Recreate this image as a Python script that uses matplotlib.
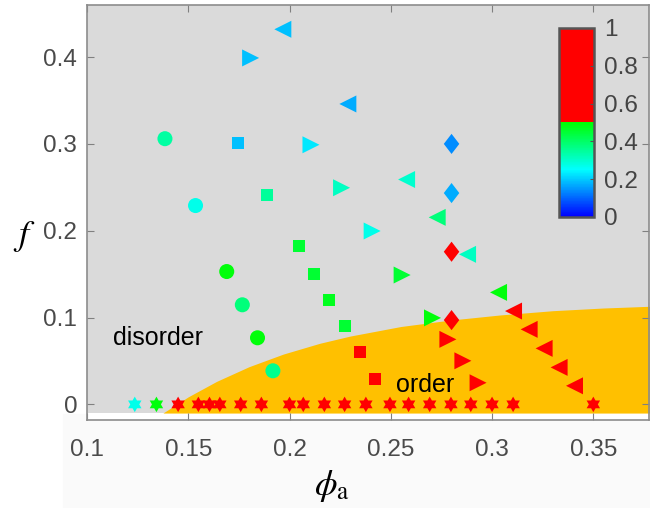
import numpy as np
import matplotlib
matplotlib.use("Agg")
import matplotlib.pyplot as plt
from matplotlib.colors import LinearSegmentedColormap
from matplotlib.patches import Rectangle

plt.rcParams['font.family'] = ['Liberation Sans', 'DejaVu Sans']
plt.rcParams['mathtext.fontset'] = 'stix'

# circles
circ_phi = [0.1385, 0.1536, 0.169, 0.1767, 0.1842, 0.1918]
circ_f = [0.306, 0.229, 0.153, 0.1147, 0.0767, 0.0387]
circ_c = [0.34, 0.27, 0.49, 0.38, 0.49, 0.36]

# squares
sq_phi = [0.1745, 0.189, 0.2046, 0.212, 0.2195, 0.2273, 0.2347, 0.2421]
sq_f = [0.301, 0.241, 0.182, 0.150, 0.120, 0.0906, 0.0603, 0.0291]
sq_c = [0.19, 0.35, 0.45, 0.45, 0.47, 0.45, 0.8, 0.8]

# right-pointing triangles
tr_phi = [0.1808, 0.2106, 0.2257, 0.2408, 0.2556, 0.2706, 0.2782, 0.2856, 0.2931]
tr_f = [0.399, 0.299, 0.2495, 0.1997, 0.149, 0.0996, 0.0749, 0.0502, 0.0249]
tr_c = [0.19, 0.23, 0.31, 0.27, 0.45, 0.49, 0.8, 0.8, 0.8]

# left-pointing triangles
tl_phi = [0.1967, 0.2288, 0.2578, 0.2729, 0.2879, 0.3032, 0.3106, 0.3183, 0.3257, 0.3331, 0.3407]
tl_f = [0.432, 0.346, 0.259, 0.2154, 0.1728, 0.129, 0.1075, 0.0864, 0.0645, 0.0426, 0.0214]
tl_c = [0.19, 0.17, 0.30, 0.38, 0.31, 0.49, 0.8, 0.8, 0.8, 0.8, 0.8]

# diamonds
dm_phi = [0.28, 0.28, 0.28, 0.28]
dm_f = [0.30, 0.2434, 0.1758, 0.0971]
dm_c = [0.14, 0.17, 0.8, 0.8]

# hexagrams at f = 0
st_phi = [0.1236, 0.1343, 0.145, 0.155, 0.1605, 0.1656, 0.1759, 0.1861, 0.2, 0.2068,
          0.2172, 0.2272, 0.2377, 0.2496, 0.2588, 0.2692, 0.2797, 0.2895, 0.30, 0.3104, 0.35]
st_f = [0.0] * len(st_phi)
st_c = [0.27, 0.49] + [0.8] * (len(st_phi) - 2)

# order / disorder boundary
bnd_phi = [0.1375, 0.15, 0.164, 0.18, 0.197, 0.215, 0.23, 0.255, 0.279, 0.304, 0.33, 0.355, 0.378]
bnd_f = [-0.01, 0.0087, 0.0265, 0.0434, 0.058, 0.0704, 0.0787, 0.0897, 0.097, 0.103, 0.1079, 0.111, 0.113]

cdict = {
    'red': [(0, 0, 0), (0.5, 0, 1), (1, 1, 1)],
    'green': [(0, 0, 0), (0.25, 1, 1), (0.5, 1, 0), (1, 0, 0)],
    'blue': [(0, 1, 1), (0.25, 1, 1), (0.5, 0, 0), (1, 0, 0)],
}
cmap = LinearSegmentedColormap('bcgr', cdict, N=256)

# marker shapes
ang_out = np.deg2rad(90 + 60 * np.arange(6))
ang_in = ang_out + np.deg2rad(30)
hexa = []
for a, b in zip(ang_out, ang_in):
    hexa.append((np.cos(a), np.sin(a)))
    hexa.append((np.cos(b) / np.sqrt(3), np.sin(b) / np.sqrt(3)))
diamond = [(0, 1), (0.77, 0), (0, -1), (-0.77, 0)]

fig = plt.figure(figsize=(6.5, 5.08), dpi=100)
fig.patches.append(Rectangle((0.097, 0), 0.903, 0.185, transform=fig.transFigure,
                             color='#fafafa', zorder=-1))
ax = fig.add_axes([0.1338, 0.1732, 0.8647, 0.817])
ax.set_facecolor('white')
ax.set_xlim(0.1, 0.3775)
ax.set_ylim(-0.018, 0.46)
ax.axhspan(-0.01, 0.46, color='#dadada', zorder=0, lw=0)
ax.fill_between(bnd_phi, -0.01, bnd_f, color='#ffc000', lw=0, zorder=1)

kw = dict(cmap=cmap, vmin=0, vmax=1, linewidths=0, zorder=3)
sc = ax.scatter(circ_phi, circ_f, c=circ_c, marker='o', s=117, **kw)
ax.scatter(sq_phi, sq_f, c=sq_c, marker='s', s=75, **kw)
ax.scatter(tr_phi, tr_f, c=tr_c, marker='>', s=150, **kw)
ax.scatter(tl_phi, tl_f, c=tl_c, marker='<', s=150, **kw)
ax.scatter(dm_phi, dm_f, c=dm_c, marker=diamond, s=210, **kw)
ax.scatter(st_phi, st_f, c=st_c, marker=hexa, s=125, **kw)

ax.text(0.1127, 0.0683, 'disorder', fontsize=18, ha='left', va='baseline', zorder=4)
ax.text(0.2524, 0.0145, 'order', fontsize=18, ha='left', va='baseline', zorder=4)

ax.set_xticks([0.1, 0.15, 0.2, 0.25, 0.3, 0.35])
ax.set_xticklabels(['0.1', '0.15', '0.2', '0.25', '0.3', '0.35'])
ax.set_yticks([0, 0.1, 0.2, 0.3, 0.4])
ax.set_yticklabels(['0', '0.1', '0.2', '0.3', '0.4'])
ax.tick_params(direction='in', length=5, color='#808080', labelcolor='#4a4a4a',
               labelsize=17.5, top=True, right=True)
ax.tick_params(axis='x', pad=14)
ax.tick_params(axis='y', pad=7)
for sp in ax.spines.values():
    sp.set_color('#8c8c8c')
    sp.set_linewidth(1.2)

ax.set_xlabel(r'$\phi_{\rm a}$', fontsize=26, va='center')
ax.xaxis.set_label_coords(0.436, -0.16)
ax.set_ylabel(r'$f$', fontsize=26, rotation=0, ha='center', va='center')
ax.yaxis.set_label_coords(-0.112, 0.441)

cax = fig.add_axes([0.86, 0.573, 0.054, 0.372])
cb = fig.colorbar(sc, cax=cax, ticks=[0, 0.2, 0.4, 0.6, 0.8, 1])
cb.ax.set_yticklabels(['0', '0.2', '0.4', '0.6', '0.8', '1'])
cb.ax.tick_params(direction='in', length=3, color='#555555', labelcolor='#444444',
                  labelsize=17.5, pad=7)
cb.outline.set_edgecolor('#555555')
cb.outline.set_linewidth(1.8)

fig.savefig('out.png', dpi=100)
